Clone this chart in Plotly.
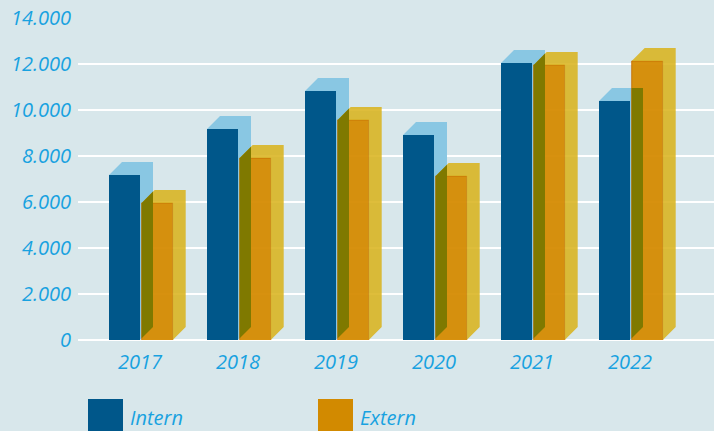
import plotly.graph_objects as go

# ---- data ----
years = ["2017", "2018", "2019", "2020", "2021", "2022"]
intern = [7170, 9170, 10830, 8910, 12040, 10390]
extern = [5960, 7910, 9570, 7130, 11960, 12130]
y_tickvals = [0, 2000, 4000, 6000, 8000, 10000, 12000, 14000]
y_ticktext = ["0", "2.000", "4.000", "6.000", "8.000", "10.000", "12.000", "14.000"]
series_names = ["Intern", "Extern"]

# ---- styling / geometry ----
BG = "#d8e7eb"
TXT = "#18a2e0"
DARK_BLUE = "#00578a"
LIGHT_BLUE = "#89c7e3"
ORANGE = "rgba(213,138,0,0.94)"
YELLOW = "rgba(216,178,27,0.86)"
OLIVE = "#7f7900"
FONT = "Open Sans"

W, H = 714, 431
ML, MR, MT, MB = 78, 0, 18, 91
plot_w = W - ML - MR
plot_h = H - MT - MB
XU = 98.0                      # px per category
x_first_px = 140.0             # px of first category anchor
x_range = [(ML - x_first_px) / XU, (W - MR - x_first_px) / XU]
y_range = [0, 14000]
YU = plot_h / (y_range[1] - y_range[0])   # px per value unit

d = 13 / XU       # depth in x units
dv = 13 / YU      # depth in y units
w = 31 / XU       # front width
gap = 1.7 / XU

def poly_trace(polys, fill, line=None):
    xs, ys = [], []
    for p in polys:
        for (a, b) in p:
            xs.append(a)
            ys.append(b)
        xs.append(None)
        ys.append(None)
    return go.Scatter(
        x=xs, y=ys, mode="lines", fill="toself", fillcolor=fill,
        line=line or dict(width=0, color="rgba(0,0,0,0)"),
        hoverinfo="skip", showlegend=False,
    )

in_back, in_front, ex_front, ex_back, olive = [], [], [], [], []
for i, (vi, ve) in enumerate(zip(intern, extern)):
    r = float(i)
    # intern box
    in_front.append([(r - w, 0), (r - w, vi), (r, vi), (r, 0)])
    in_back.append([(r - w, vi), (r - w + d, vi + dv), (r + d, vi + dv),
                    (r + d, dv), (r, 0), (r, vi)])
    # extern box
    x0 = r + gap
    ex_front.append([(x0, 0), (x0, ve), (x0 + w, ve), (x0 + w, 0)])
    ex_back.append([(x0, ve), (x0 + d, ve + dv), (x0 + w + d, ve + dv),
                    (x0 + w + d, dv), (x0 + w, 0), (x0 + w, ve)])
    # overlap (olive) region in strip [x0, r+d]
    xa, xb = x0, r + d
    def yb(x):
        return (x - r) / d * dv
    def yt_ext(x):
        return ve + (x - x0) / d * dv
    cap = vi + dv
    pts = [(xa, yb(xa))]
    if yt_ext(xa) >= cap:
        pts += [(xa, cap), (xb, cap)]
    elif yt_ext(xb) <= cap:
        pts += [(xa, yt_ext(xa)), (xb, yt_ext(xb))]
    else:
        xm = x0 + (cap - ve) / dv * d
        pts += [(xa, yt_ext(xa)), (xm, cap), (xb, cap)]
    pts.append((xb, yb(xb)))
    olive.append(pts)

fig = go.Figure()
fig.add_trace(poly_trace(in_back, LIGHT_BLUE))
fig.add_trace(poly_trace(in_front, DARK_BLUE))
fig.add_trace(poly_trace(ex_front, ORANGE, dict(width=1, color="rgba(195,105,0,0.8)")))
fig.add_trace(poly_trace(ex_back, YELLOW))
fig.add_trace(poly_trace(olive, OLIVE))

# legend (manual)
def px_to_paper_x(px):
    return (px - ML) / plot_w
def px_to_paper_y(py):
    return (H - MB - py) / plot_h

legend_items = [(88, series_names[0], DARK_BLUE), (318, series_names[1], "#d28a00")]
shapes, annotations = [], []
for lx, name, col in legend_items:
    shapes.append(dict(type="rect", xref="paper", yref="paper",
                       x0=px_to_paper_x(lx), x1=px_to_paper_x(lx + 35),
                       y0=px_to_paper_y(399), y1=px_to_paper_y(436),
                       fillcolor=col, line=dict(width=0), layer="above"))
    annotations.append(dict(xref="paper", yref="paper",
                            x=px_to_paper_x(lx + 40), y=px_to_paper_y(417),
                            xanchor="left", yanchor="middle", showarrow=False,
                            text=name,
                            font=dict(family=FONT, size=20, color=TXT, style="italic")))

fig.update_layout(
    width=W, height=H,
    margin=dict(l=ML, r=MR, t=MT, b=MB, pad=0),
    paper_bgcolor=BG, plot_bgcolor=BG,
    showlegend=False,
    shapes=shapes, annotations=annotations,
    xaxis=dict(range=x_range, tickvals=list(range(len(years))), ticktext=years,
               showgrid=False, zeroline=False, showline=False, ticks="",
               tickfont=dict(family=FONT, size=20, color=TXT, style="italic"),
               ticklabelstandoff=8, fixedrange=True),
    yaxis=dict(range=y_range, tickvals=y_tickvals, ticktext=y_ticktext,
               showgrid=True, gridcolor="white", gridwidth=2,
               zeroline=True, zerolinecolor="white", zerolinewidth=2,
               showline=False, ticks="",
               tickfont=dict(family=FONT, size=20, color=TXT, style="italic"),
               ticklabelstandoff=6, fixedrange=True),
)

fig.write_html("out.html")
